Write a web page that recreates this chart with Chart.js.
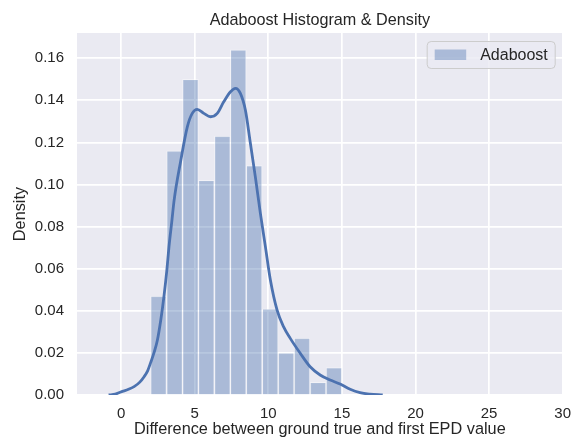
<!DOCTYPE html>
<html>
<head>
<meta charset="utf-8">
<script src="https://cdn.jsdelivr.net/npm/chart.js@4/dist/chart.umd.min.js"></script>
<style>
  html, body { margin: 0; padding: 0; background: #ffffff; }
  canvas { display: block; }
</style>
</head>
<body>
<canvas id="chart" width="572" height="446"></canvas>
<script>
// Histogram bins (centres of 12 equal-width bins spanning 2 to 15)
const binCenters = [2.54, 3.63, 4.71, 5.79, 6.88, 7.96, 9.04, 10.13, 11.21, 12.29, 13.38, 14.46];
// Normalised histogram heights (density)
const binDensity = [0.047, 0.116, 0.150, 0.102, 0.123, 0.164, 0.109, 0.041, 0.020, 0.027, 0.006, 0.013];

// Kernel density estimate curve
const kdeX = [-0.85, -0.4, 0.0, 0.5, 0.88, 1.25, 1.56, 1.8, 2.01, 2.25, 2.46, 2.7, 2.91, 3.1, 3.25, 3.45,
              3.6, 4.04, 4.5, 4.83, 5.17, 5.62, 6.07, 6.53, 6.97, 7.43, 7.77, 8.1, 8.44, 8.78,
              9.12, 9.46, 9.8, 10.14, 10.59, 11.04, 11.49, 12.17, 12.84, 13.52, 14.2, 14.88,
              15.56, 16.23, 16.9, 17.77];
const kdeY = [0.0, 0.0004, 0.0015, 0.0027, 0.004, 0.006, 0.0087, 0.0115, 0.0155, 0.0205, 0.026, 0.036, 0.047, 0.059, 0.0705, 0.083,
              0.0926, 0.111, 0.1275, 0.1338, 0.1357, 0.1338, 0.1322, 0.1338, 0.1393, 0.1441, 0.1457, 0.1433, 0.1354, 0.1196,
              0.1035, 0.0863, 0.0705, 0.0546, 0.0404, 0.0324, 0.0269, 0.0198, 0.0134, 0.0095, 0.0071, 0.0052,
              0.0027, 0.0011, 0.0004, 0.0];

// Axis ticks
const xTicks = [0, 5, 10, 15, 20, 25, 30];
const yTicks = [0.00, 0.02, 0.04, 0.06, 0.08, 0.10, 0.12, 0.14, 0.16];

const seriesName = 'Adaboost';
const titleText = 'Adaboost Histogram & Density';
const xLabel = 'Difference between ground true and first EPD value';
const yLabel = 'Density';

const FONT = '"Liberation Sans", Arial, "DejaVu Sans", sans-serif';
const TEXT = '#262626';
const BLUE = '#4C72B0';
const BAR_FILL = 'rgba(76,114,176,0.4)';
const BAR_EDGE = 'rgba(255,255,255,0.4)';
const PANEL = '#EAEAF2';

// Paints the grey panel behind the grid
const panelBackground = {
  id: 'panelBackground',
  beforeDraw(chart) {
    const { ctx, chartArea: a } = chart;
    ctx.save();
    ctx.fillStyle = PANEL;
    ctx.fillRect(a.left, a.top, a.right - a.left, a.bottom - a.top);
    ctx.restore();
  }
};

// Title centred over the plotting area rather than the whole canvas
const axesTitle = {
  id: 'axesTitle',
  afterDraw(chart, args, opts) {
    const { ctx, chartArea: a } = chart;
    ctx.save();
    ctx.fillStyle = TEXT;
    ctx.font = '16.2px ' + FONT;
    ctx.textAlign = 'center';
    ctx.textBaseline = 'alphabetic';
    ctx.fillText(opts.text, (a.left + a.right) / 2, 25);
    ctx.restore();
  }
};

// Legend box drawn inside the upper-right corner of the plot
const insetLegend = {
  id: 'insetLegend',
  afterDraw(chart) {
    const { ctx, chartArea: a } = chart;
    const ds = chart.data.datasets[0];
    const w = 128, h = 27;
    const x = a.right - 7.5 - w, y = a.top + 8.5;
    ctx.save();
    ctx.beginPath();
    ctx.roundRect(x, y, w, h, 4);
    ctx.fillStyle = 'rgba(234,234,242,0.8)';
    ctx.fill();
    ctx.lineWidth = 1;
    ctx.strokeStyle = '#CCCCCC';
    ctx.stroke();
    ctx.fillStyle = ds.backgroundColor;
    ctx.fillRect(x + 7.5, y + 8, 31.5, 10.5);
    ctx.fillStyle = TEXT;
    ctx.font = '16px ' + FONT;
    ctx.textBaseline = 'middle';
    ctx.textAlign = 'left';
    ctx.fillText(ds.label, x + 53, y + h / 2 + 0.5);
    ctx.restore();
  }
};

const keepTicks = (list) => (scale) => {
  scale.ticks = list.map(v => ({ value: v }));
};

new Chart(document.getElementById('chart'), {
  type: 'bar',
  data: {
    datasets: [
      {
        type: 'bar',
        label: seriesName,
        data: binCenters.map((c, i) => ({ x: c, y: binDensity[i] })),
        backgroundColor: BAR_FILL,
        borderColor: BAR_EDGE,
        borderWidth: 1,
        barPercentage: 1,
        categoryPercentage: 1,
        order: 2
      },
      {
        type: 'line',
        label: 'kde',
        data: kdeX.map((x, i) => ({ x: x, y: kdeY[i] })),
        borderColor: BLUE,
        borderWidth: 2.8,
        pointRadius: 0,
        fill: false,
        cubicInterpolationMode: 'monotone',
        order: 1
      }
    ]
  },
  options: {
    responsive: false,
    animation: false,
    devicePixelRatio: 1,
    layout: { padding: { left: 0, right: 9.3, top: 33, bottom: 0 } },
    plugins: {
      legend: { display: false },
      tooltip: { enabled: false },
      title: { display: false },
      axesTitle: { text: titleText }
    },
    scales: {
      x: {
        type: 'linear',
        min: -3,
        max: 30,
        offset: false,
        afterBuildTicks: keepTicks(xTicks),
        afterFit(scale) {
          scale.height = 51;
          scale.paddingLeft = 0;
          scale.paddingRight = 0;
        },
        grid: { color: '#FFFFFF', lineWidth: 1.7, drawTicks: false, offset: false },
        border: { display: false },
        ticks: {
          color: TEXT,
          padding: 10,
          maxRotation: 0,
          font: { family: FONT, size: 15 },
          callback: (v) => String(v)
        },
        title: {
          display: true,
          text: xLabel,
          color: TEXT,
          font: { family: FONT, size: 16.3 },
          padding: { top: 0, bottom: 7 }
        }
      },
      y: {
        type: 'linear',
        min: 0,
        max: 0.172,
        afterBuildTicks: keepTicks(yTicks),
        afterFit(scale) {
          scale.width = 77;
          scale.paddingTop = 0;
          scale.paddingBottom = 0;
        },
        grid: { color: '#FFFFFF', lineWidth: 1.7, drawTicks: false },
        border: { display: false },
        ticks: {
          color: TEXT,
          padding: 13,
          font: { family: FONT, size: 15 },
          callback: (v) => Number(v).toFixed(2)
        },
        title: {
          display: true,
          text: yLabel,
          color: TEXT,
          font: { family: FONT, size: 16.3 },
          padding: { top: 10.5, bottom: 0 }
        }
      }
    }
  },
  plugins: [panelBackground, axesTitle, insetLegend]
});
</script>
</body>
</html>
